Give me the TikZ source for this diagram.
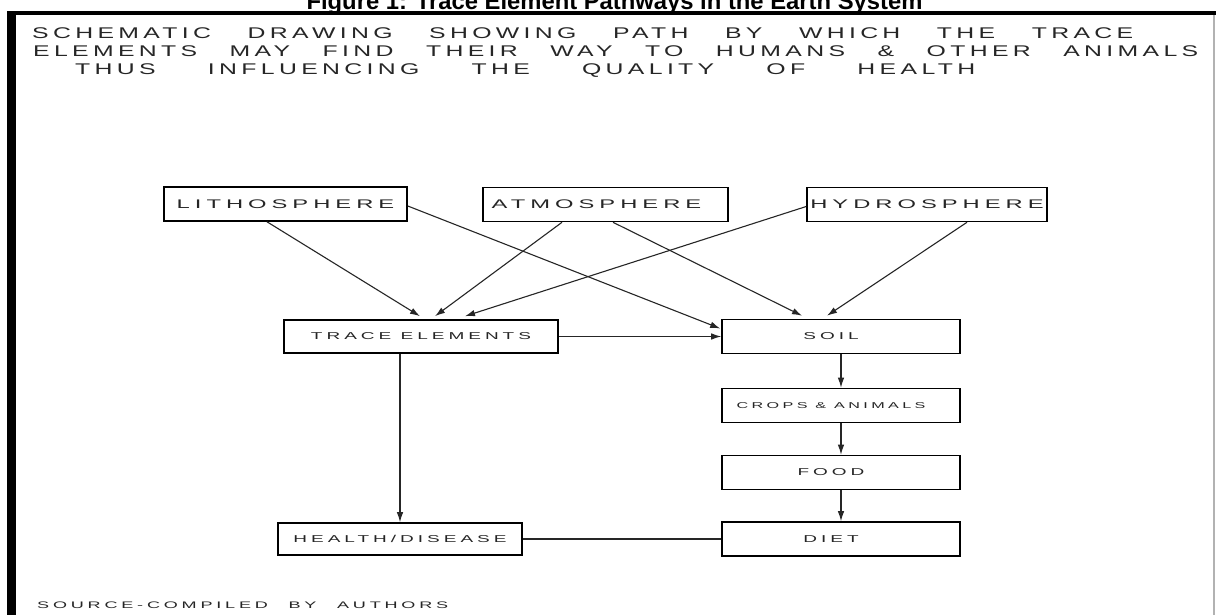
\documentclass[tikz,border=0pt]{standalone}
\usepackage{fontspec}
\setmainfont{Liberation Sans}
\newfontfamily\headfont[FakeStretch=1.6,LetterSpace=28]{Liberation Sans}
\newfontfamily\boxfont[FakeStretch=1.9,LetterSpace=40]{Liberation Sans}
\usetikzlibrary{arrows.meta}

\begin{document}
\begin{tikzpicture}[x=1pt,y=-1pt,
    box/.style={draw=black,line width=1.6pt,inner sep=0pt,text=black!85,
      minimum width=238pt,minimum height=34pt,font=\boxfont\fontsize{10}{12}\selectfont},
    topbox/.style={box,font=\boxfont\fontsize{12.5}{14}\selectfont},
    link/.style={draw=black!85,line width=1.1pt,-{Latex[length=10pt,width=6.5pt]}},
    plainlink/.style={draw=black!85,line width=1.1pt},
    heading/.style={anchor=west,inner sep=0pt,text=black!85,font=\headfont\fontsize{15.5}{18}\selectfont}]
  \useasboundingbox (0,0) rectangle (1216,615);
  \fill[white] (0,0) rectangle (1216,615);
  % caption above the frame
  \node[anchor=base,inner sep=0pt,font=\bfseries\fontsize{23.8}{26}\selectfont] (caption) at (614.5,10)
    {Figure 1: Trace Element Pathways in the Earth System};
  % frame
  \fill[black] (7,11) rectangle (1216,15.5);
  \fill[black] (7,11) rectangle (16,615);
  \draw[black!30,line width=2pt] (1214,15) -- (1214,615);
  % heading
  \node[heading] (head1) at (32,33) {\makebox[1101pt][s]{SCHEMATIC DRAWING SHOWING PATH BY WHICH THE TRACE}};
  \node[heading] (head2) at (33,51) {\makebox[1165pt][s]{ELEMENTS MAY FIND THEIR WAY TO HUMANS \& OTHER ANIMALS}};
  \node[heading] (head3) at (75,71) {\makebox[900pt][s]{THUS INFLUENCING THE QUALITY OF HEALTH}};
  % spheres
  \node[topbox,minimum width=243pt] (lith) at (285.5,204) {LITHOSPHERE};
  \node[topbox,minimum width=245pt] (atmo) at (605.5,204.5) {ATMOSPHERE\hspace*{18pt}};
  \node[topbox,minimum width=240pt] (hydro) at (927,204.5) {HYDROSPHERE};
  % lower boxes
  \node[box,minimum width=274pt,minimum height=33pt] (trace) at (421,336.5) {TRACE ELEMENTS};
  \node[box,minimum width=244pt,minimum height=32pt] (health) at (400,539) {HEALTH/DISEASE};
  \foreach \name/\txt/\y in {soil/SOIL/336.5, crops/{\fontsize{8.5}{10}\selectfont CROPS \& ANIMALS}/405.5, food/FOOD/472.5, diet/DIET/539}
    \node[box] (\name) at (841,\y) {\txt\hspace*{20pt}};
  % arrows from the spheres
  \draw[link] ([xshift=-18.5pt]lith.south) -- ([xshift=-1pt,yshift=3pt]trace.north);
  \draw[link] ([xshift=-43.5pt]atmo.south) -- ([xshift=14pt,yshift=3pt]trace.north);
  \draw[link] ([yshift=-2pt]hydro.west) -- ([xshift=44pt,yshift=3pt]trace.north);
  \draw[link] ([yshift=-2pt]lith.east) -- ([xshift=-1pt,yshift=8pt]soil.west);
  \draw[link] ([xshift=7.5pt]atmo.south) -- ([xshift=-39pt,yshift=3pt]soil.north);
  \draw[link] ([xshift=40pt]hydro.south) -- ([xshift=-14pt,yshift=3pt]soil.north);
  % pathway
  \draw[link] (trace) -- (soil);
  \draw[link] (health.north |- trace.south) -- (health.north);
  \foreach \a/\b in {soil/crops, crops/food, food/diet}
    \draw[link] (\a) -- (\b);
  \draw[plainlink] (health) -- (diet);
  % source
  \node[anchor=west,inner sep=0pt,text=black!85,font=\boxfont\fontsize{9.5}{11}\selectfont] (source) at (37,605)
    {\makebox[411pt][s]{SOURCE-COMPILED BY AUTHORS}};
\end{tikzpicture}
\end{document}
